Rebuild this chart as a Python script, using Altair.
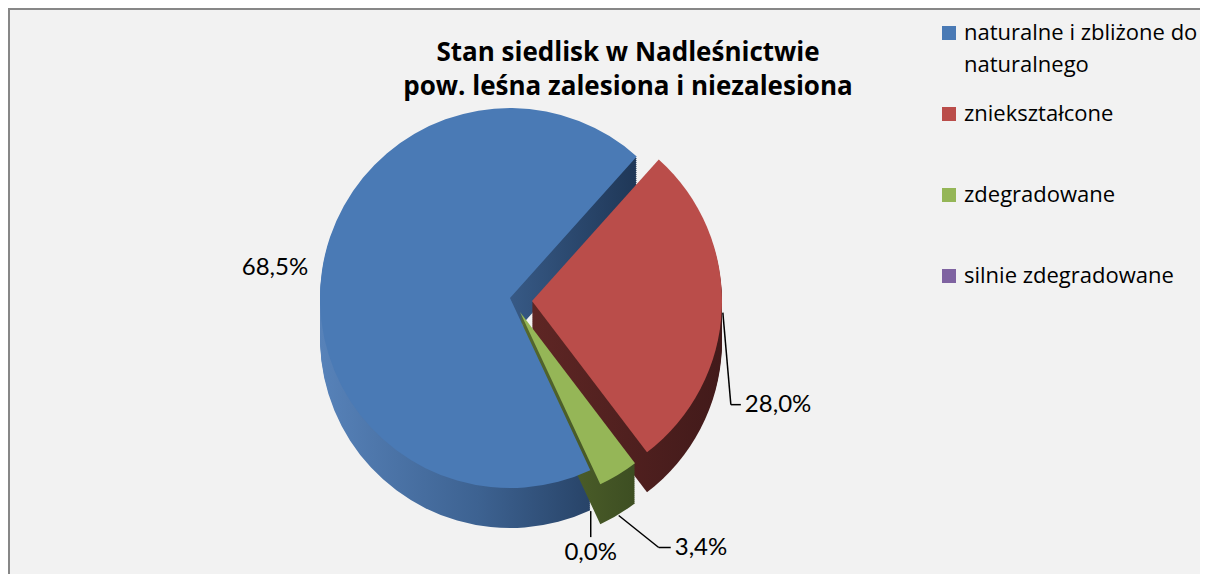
import math
import altair as alt
import pandas as pd

# ---- data ----
categories = ["naturalne i zbliżone do naturalnego", "zniekształcone", "zdegradowane", "silnie zdegradowane"]
values = [68.5, 28.0, 3.4, 0.0]
value_labels = ["68,5%", "28,0%", "3,4%", "0,0%"]
order = [0, 1, 2, 3]

top_colors = ["#4A7AB5", "#BA4D4A", "#95B657", "#7F63A1"]

df = pd.DataFrame({"cat": categories, "value": values, "lab": value_labels, "order": order})

# ---- layout (plot coordinates) ----
W, H = 1192, 566
CX, CY = 502, 290
R = 190
DEPTH = 40
START = math.radians(155)
TOTAL = sum(values)

theta_scale = alt.Scale(domain=[0, TOTAL], range=[START, START + 2 * math.pi])

base = (
    alt.Chart(df)
    .transform_window(cum="sum(value)", sort=[alt.SortField("order")], frame=[None, 0])
    .transform_calculate(
        c0="datum.cum - datum.value",
        amid=f"{START} + 2*PI*(datum.cum - datum.value/2)/{TOTAL}",
    )
)


def sl(i):
    return base.transform_filter(alt.datum.order == i)


def grad(stops):
    return alt.Gradient(
        gradient="linear", x1=0, x2=1, y1=0, y2=0,
        stops=[alt.GradientStop(color=c, offset=o) for o, c in stops],
    )


side_fills = [
    grad([(0, "#5782b9"), (0.5, "#3d6291"), (1, "#1f3757")]),
    grad([(0, "#5e2624"), (1, "#421a1a")]),
    grad([(0, "#56692e"), (1, "#3d4e22")]),
    grad([(0, "#3d2e4c"), (1, "#30263d")]),
]
explode = [(0, 0), (22, 3), (10, 14), (0, 0)]

theta = alt.Theta("c0:Q", scale=theta_scale, stack=False)

# 3-D side walls: the same slice repeated at increasing depth
sides = []
for i in range(3):
    ex, ey = explode[i]
    for d in range(DEPTH, 0, -2):
        sides.append(
            sl(i)
            .mark_arc(fill=side_fills[i], xOffset=ex, yOffset=ey + d, radius=R)
            .encode(theta=theta, theta2="cum:Q", x=alt.value(CX), y=alt.value(CY))
        )

legend = alt.Legend(
    title=None,
    orient="none",
    legendX=930,
    legendY=14,
    padding=0,
    symbolType="square",
    symbolSize=196,
    symbolStrokeWidth=0,
    labelFont="Open Sans",
    labelFontSize=22,
    labelColor="black",
    labelLimit=400,
    labelOffset=4,
    rowPadding=27,
    gridAlign="all",
    labelExpr=(
        "datum.label == 'naturalne i zbliżone do naturalnego' ? "
        "['naturalne i zbliżone do', 'naturalnego'] : datum.label"
    ),
)

tops = []
for i in range(4):
    ex, ey = explode[i]
    tops.append(
        sl(i)
        .mark_arc(xOffset=ex, yOffset=ey, radius=R)
        .encode(
            theta=theta, theta2="cum:Q", x=alt.value(CX), y=alt.value(CY),
            color=alt.Color("cat:N", scale=alt.Scale(domain=categories, range=top_colors), legend=legend),
        )
    )

FONT = dict(font="Lato", fontSize=24, color="black")

# 68,5 % label (no leader)
lab0 = (
    sl(0)
    .transform_calculate(
        lx=f"{CX} + {R + 14}*sin(datum.amid)",
        ly=f"{CY} - {R + 14}*cos(datum.amid)",
    )
    .mark_text(align="right", baseline="middle", **FONT)
    .encode(x=alt.X("lx:Q", scale=None), y=alt.Y("ly:Q", scale=None), text="lab:N")
)


def leader(i, drop, v1, v2, align, baseline, tdx, tdy):
    ex, ey = explode[i]
    b = sl(i).transform_calculate(
        x0=f"{CX + ex} + {R + 1}*sin(datum.amid)",
        y0=f"{CY + ey} - {R + 1}*cos(datum.amid) + {drop}",
    ).transform_calculate(
        x1=f"datum.x0 + {v1[0]}", y1=f"datum.y0 + {v1[1]}",
    ).transform_calculate(
        x2=f"datum.x1 + {v2[0]}", y2=f"datum.y1 + {v2[1]}",
    )
    seg1 = b.mark_rule(color="black", strokeWidth=1.5).encode(
        x=alt.X("x0:Q", scale=None), y=alt.Y("y0:Q", scale=None),
        x2="x1:Q", y2="y1:Q",
    )
    seg2 = b.mark_rule(color="black", strokeWidth=1.5).encode(
        x=alt.X("x1:Q", scale=None), y=alt.Y("y1:Q", scale=None),
        x2="x2:Q", y2="y2:Q",
    )
    txt = b.mark_text(align=align, baseline=baseline, dx=tdx, dy=tdy, **FONT).encode(
        x=alt.X("x2:Q", scale=None), y=alt.Y("y2:Q", scale=None), text="lab:N"
    )
    return [seg1, seg2, txt]


lead1 = leader(1, 4, (8, 92), (10, 0), "left", "middle", 4, 0)
lead2 = leader(2, DEPTH, (40, 32), (12, 0), "left", "middle", 4, 0)
lead3 = leader(3, DEPTH, (0, 26), (0, 0), "center", "top", 0, 4)

border_df = pd.DataFrame({"k": [0]})
border_top = alt.Chart(border_df).mark_rule(color="#878787", strokeWidth=2).encode(
    x=alt.value(0), x2=alt.value(W), y=alt.value(1)
)
border_left = alt.Chart(border_df).mark_rule(color="#878787", strokeWidth=2).encode(
    x=alt.value(1), y=alt.value(0), y2=alt.value(H)
)

chart = alt.layer(
    border_top, border_left, *sides, *tops, lab0, *lead1, *lead2, *lead3
).properties(
    width=W,
    height=H,
    padding=0,
    autosize=alt.AutoSizeParams(type="none"),
    background="#f2f2f2",
    title=alt.Title(
        ["Stan siedlisk w Nadleśnictwie", "pow. leśna zalesiona i niezalesiona"],
        font="Open Sans", fontSize=26, fontWeight="bold", color="black",
        anchor="middle", frame="group", dx=24, offset=-93, lineHeight=34,
    ),
).configure_view(stroke=None).configure(style={"guide-label": {"lineHeight": 32}})

chart.save("out.html", embed_options={"renderer": "svg", "actions": False})
